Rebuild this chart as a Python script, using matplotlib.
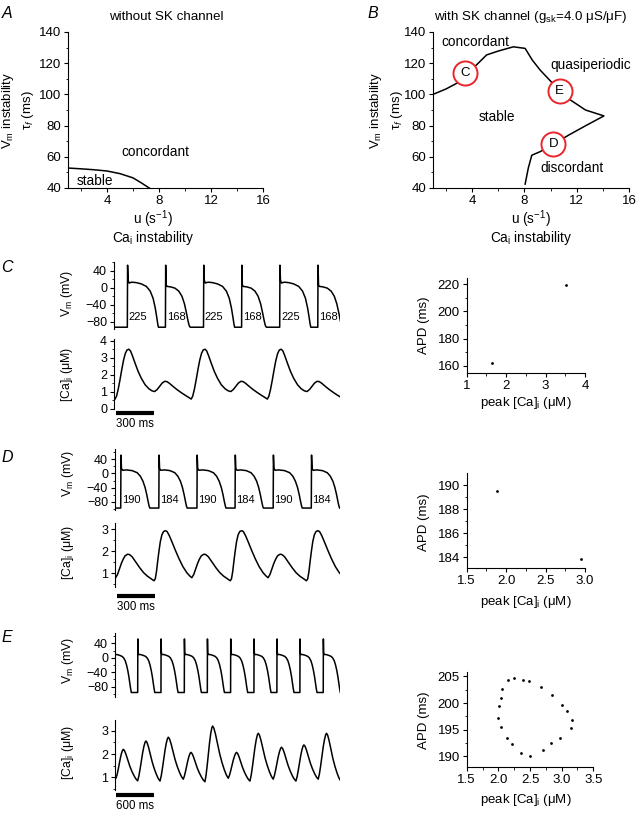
import numpy as np
import matplotlib.pyplot as plt
from matplotlib.ticker import MultipleLocator
import matplotlib.transforms as mtransforms

plt.rcParams['font.family'] = ['Liberation Sans', 'DejaVu Sans']
plt.rcParams['mathtext.fontset'] = 'custom'
plt.rcParams['mathtext.rm'] = 'Liberation Sans'
plt.rcParams['mathtext.it'] = 'Liberation Sans:italic'
plt.rcParams['mathtext.bf'] = 'Liberation Sans:bold'
plt.rcParams['font.size'] = 9
plt.rcParams['axes.linewidth'] = 0.8
plt.rcParams['xtick.major.size'] = 3
plt.rcParams['ytick.major.size'] = 3
plt.rcParams['xtick.minor.size'] = 1.8
plt.rcParams['ytick.minor.size'] = 1.8
plt.rcParams['xtick.major.pad'] = 2
plt.rcParams['ytick.major.pad'] = 2

W, H = 638, 813

# ---------------- data ----------------
# A: boundary stable / concordant (u in 1/s, tau_f in ms)
a_u = [1.0, 2.0, 3.0, 4.0, 5.0, 6.0, 6.6, 7.25]
a_tau = [52.8, 52.3, 51.7, 50.9, 49.2, 46.5, 43.5, 40.0]

# B: boundary with SK channel
b_u = [1.0, 2.0, 2.9, 3.44, 4.33, 5.1, 6.0, 7.15, 8.05, 8.6, 9.2, 10.0, 10.7,
       11.5, 12.67, 14.08, 12.7, 11.4, 10.2, 9.2, 8.56, 8.3, 8.05]
b_tau = [100, 103.5, 107.5, 113, 118.9, 125.3, 127.8, 130.5, 129.5, 122, 115.6,
         108.5, 102.4, 96.5, 90, 86.2, 80, 74, 68, 63.3, 61, 53, 42.5]
b_marks = ['C', 'E', 'D']
b_mark_u = [3.44, 10.7, 10.2]
b_mark_tau = [113.5, 102.4, 68.0]

# C: concordant alternans traces (t in ms)
c_up = [105, 405, 705, 1005, 1305, 1605]
c_apd = ['225', '168', '225', '168', '225', '168']
c_long_t = [0, 2, 6, 14, 35, 70, 110, 150, 180, 203, 220, 232, 240, 245]
c_long_v = [-93, 53, 18, 11, 13, 12, 9, 3, -8, -25, -48, -70, -86, -93]
c_short_t = [0, 2, 6, 14, 40, 75, 105, 130, 150, 166, 178, 187, 195]
c_short_v = [-93, 53, 6, 3, 2, -1, -8, -20, -38, -60, -78, -89, -93]
c_ca_start = [105, 705, 1305]
c_ca_t = [-97, -85, -72, -58, -44, -30, -16, -3, 12, 25, 40, 60, 85, 110, 140,
          170, 195, 215, 235, 255, 275, 295, 312, 332, 360, 390, 420, 450, 480, 503]
c_ca_v = [0.58, 0.75, 1.15, 1.7, 2.3, 2.85, 3.25, 3.45, 3.5, 3.4, 3.12, 2.7, 2.2,
          1.8, 1.42, 1.18, 1.06, 1.02, 1.14, 1.33, 1.52, 1.62, 1.6, 1.5, 1.32,
          1.14, 0.98, 0.83, 0.69, 0.58]
c_peak_ca = [1.63, 3.52]
c_apd_ms = [162.4, 219.5]

# D: discordant alternans traces
d_up = [45, 345, 645, 945, 1245, 1545]
d_apd = ['190', '184', '190', '184', '190', '184']
d_long_t = [0, 2, 6, 15, 45, 90, 130, 155, 175, 192, 205, 216, 224, 229]
d_long_v = [-98, 52, 14, 9, 10, 8, 2, -8, -22, -40, -60, -80, -93, -98]
d_short_t = [0, 2, 6, 15, 45, 88, 126, 150, 170, 186, 199, 210, 218, 223]
d_short_v = [-98, 52, 14, 9, 10, 8, 2, -8, -22, -40, -60, -80, -93, -98]
d_ca_start = [45, 645, 1245]
d_ca_t = [-40, -25, -10, 5, 20, 35, 55, 70, 90, 120, 150, 180, 210, 240, 262,
          272, 282, 292, 302, 312, 324, 337, 352, 365, 382, 402, 430, 460, 490,
          520, 545, 560]
d_ca_v = [0.8, 0.95, 1.2, 1.45, 1.65, 1.8, 1.87, 1.85, 1.75, 1.5, 1.25, 1.03,
          0.87, 0.75, 0.66, 0.75, 1.1, 1.6, 2.05, 2.45, 2.75, 2.9, 2.94, 2.9,
          2.72, 2.45, 2.05, 1.65, 1.3, 1.03, 0.87, 0.8]
d_peak_ca = [1.88, 2.95]
d_apd_ms = [189.5, 183.9]

# E: quasiperiodic traces
e_up = [-12, 352, 713, 1075, 1432, 1793, 2155, 2511, 2868, 3230]
e_ap_t = [0, 2, 6, 14, 40, 80, 120, 145, 170, 191, 210, 227, 240, 253, 265]
e_ap_v = [-96, 52, 14, 9, 9, 7, 4, 0, -8, -20, -35, -52, -68, -84, -96]
e_tr_t = [15, 351, 698, 1059, 1395, 1757, 2093, 2454, 2806, 3152, 3500]
e_tr_v = [0.96, 0.85, 0.84, 0.92, 0.81, 0.96, 0.84, 0.92, 0.84, 0.92, 0.85]
e_pk_t = [129, 480, 827, 1178, 1514, 1886, 2222, 2583, 2930, 3281]
e_pk_v = [2.20, 2.56, 2.72, 2.07, 3.20, 2.07, 2.89, 2.29, 2.39, 2.89]
rise_s = [0, 0.15, 0.3, 0.45, 0.6, 0.75, 0.9, 1.0]
rise_f = [0, 0.12, 0.3, 0.5, 0.7, 0.86, 0.97, 1.0]
decay_s = [0.0, 0.08, 0.18, 0.3, 0.45, 0.6, 0.75, 0.88, 1.0]
decay_f = [1.0, 0.96, 0.85, 0.68, 0.47, 0.3, 0.16, 0.06, 0.0]
e_peak_ca = [2.148, 2.247, 2.394, 2.489, 2.669, 2.848, 3.0, 3.08, 3.159, 3.143,
             2.969, 2.837, 2.705, 2.5, 2.353, 2.211, 2.137, 2.042, 1.994, 2.015,
             2.037, 2.062]
e_apd_ms = [204.4, 204.7, 204.4, 204.2, 203.05, 201.5, 199.6, 198.5, 196.8,
            195.2, 193.5, 192.4, 191.1, 190.0, 190.6, 192.3, 193.4, 195.4, 197.1,
            199.5, 201.0, 202.6]

LAB = 9.8   # axis / region label size


# ---------------- helpers ----------------
def box(x0, y0, x1, y1):
    return [x0 / W, 1 - y1 / H, (x1 - x0) / W, (y1 - y0) / H]


def ftext(x, y, s, **kw):
    kw.setdefault('ha', 'center')
    kw.setdefault('va', 'center')
    fig.text(x / W, 1 - y / H, s, **kw)


def beats(ups, names, templates, rest):
    t, v = [0], [rest]
    for up, nm in zip(ups, names):
        tt, vv = templates[nm]
        t += [up + x for x in tt]
        v += list(vv)
    return t, v


def tile(starts, tt, vv):
    t, v = [], []
    for s in starts:
        t += [s + x for x in tt]
        v += list(vv)
    return t, v


def xy_axes(rect, xlim, ylim, xmaj, xmin, ymaj, ymin):
    ax = fig.add_axes(rect)
    for s in ['top', 'right']:
        ax.spines[s].set_visible(False)
    ax.set_xlim(*xlim)
    ax.set_ylim(*ylim)
    ax.xaxis.set_major_locator(MultipleLocator(xmaj))
    ax.xaxis.set_minor_locator(MultipleLocator(xmin))
    ax.yaxis.set_major_locator(MultipleLocator(ymaj))
    ax.yaxis.set_minor_locator(MultipleLocator(ymin))
    ax.tick_params(labelsize=9.5)
    ax.patch.set_alpha(0)
    return ax


def trace_axes(rect, xlim, ylim, yticks, ymin):
    ax = fig.add_axes(rect)
    for s in ['top', 'right', 'bottom']:
        ax.spines[s].set_visible(False)
    ax.set_xlim(*xlim)
    ax.set_ylim(*ylim)
    ax.set_xticks([])
    ax.set_yticks(yticks)
    ax.yaxis.set_minor_locator(MultipleLocator(ymin))
    ax.tick_params(labelsize=9)
    ax.patch.set_alpha(0)
    return ax


def scale_bar(ax, t0, t1, ybar, ytxt, label):
    tr = mtransforms.blended_transform_factory(ax.transData, fig.transFigure)
    ax.plot([t0, t1], [1 - ybar / H] * 2, color='black', lw=3,
            solid_capstyle='butt', transform=tr, clip_on=False)
    ax.text((t0 + t1) / 2, 1 - ytxt / H, label, transform=tr, ha='center',
            va='center', fontsize=8.3)


fig = plt.figure(figsize=(W / 100, H / 100), dpi=100)

# ---------------- A ----------------
axA = xy_axes(box(68, 32, 263, 188), (1, 16), (40, 140), 4, 2, 20, 10)
axA.plot(a_u, a_tau, color='black', lw=1.1)
axA.text(7.7, 63, 'concordant', ha='center', va='center', fontsize=LAB)
axA.text(3.1, 44.8, 'stable', ha='center', va='center', fontsize=LAB)
ftext(166, 17, 'without SK channel', fontsize=9.6)
ftext(8, 110, 'V$_{\\rm m}$ instability', rotation=90, fontsize=9.5)
ftext(28, 110, 'τ$_f$ (ms)', rotation=90, fontsize=9.5)
ftext(153, 219, 'u (s$^{-1}$)', fontsize=LAB)
ftext(153, 238, 'Ca$_{\\rm i}$ instability', fontsize=LAB)
ftext(7, 13, 'A', fontsize=11.5, style='italic')

# ---------------- B ----------------
axB = xy_axes(box(433, 32, 629, 188), (1, 16), (40, 140), 4, 2, 20, 10)
axB.plot(b_u, b_tau, color='black', lw=1.1)
axB.scatter(b_mark_u, b_mark_tau, s=300, facecolor='white', edgecolor='#e8262b',
            linewidth=1.4, zorder=3)
for nm, u, tau in zip(b_marks, b_mark_u, b_mark_tau):
    axB.text(u, tau, nm, ha='center', va='center', fontsize=9.5, zorder=4)
axB.text(4.2, 133.8, 'concordant', ha='center', va='center', fontsize=LAB)
axB.text(13.1, 118.8, 'quasiperiodic', ha='center', va='center', fontsize=LAB)
axB.text(5.9, 85.3, 'stable', ha='center', va='center', fontsize=LAB)
axB.text(11.6, 52.6, 'discordant', ha='center', va='center', fontsize=LAB)
ftext(531, 17, 'with SK channel (g$_{\\rm sk}$=4.0 μS/μF)', fontsize=9.6)
ftext(376, 110, 'V$_{\\rm m}$ instability', rotation=90, fontsize=9.5)
ftext(397, 110, 'τ$_f$ (ms)', rotation=90, fontsize=9.5)
ftext(531, 219, 'u (s$^{-1}$)', fontsize=LAB)
ftext(531, 238, 'Ca$_{\\rm i}$ instability', fontsize=LAB)
ftext(373, 13, 'B', fontsize=11.5, style='italic')

# ---------------- C ----------------
c_tmpl = {'225': (c_long_t, c_long_v), '168': (c_short_t, c_short_v)}
axCv = trace_axes(box(114, 262, 340, 329), (0, 1780), (-97.2, 60.5),
                  [-80, -40, 0, 40], 20)
t, v = beats(c_up, c_apd, c_tmpl, -93)
axCv.plot(t, v, color='black', lw=1.1)
for up, nm in zip(c_up, c_apd):
    axCv.text(up + 10, -68, nm, ha='left', va='center', fontsize=8)
axCc = trace_axes(box(114, 339.3, 340, 409.3), (0, 1780), (-0.02, 4.08),
                  [0, 1, 2, 3, 4], 0.5)
t, v = tile(c_ca_start, c_ca_t, c_ca_v)
axCc.plot(t, v, color='black', lw=1.1)
scale_bar(axCc, 15, 315, 412.7, 424.3, '300 ms')
ftext(67, 293, 'V$_{\\rm m}$ (mV)', rotation=90, fontsize=8.8)
ftext(67, 375, '[Ca]$_{\\rm i}$ (μM)', rotation=90, fontsize=8.8)
ftext(7, 267, 'C', fontsize=11.5, style='italic')

axCs = xy_axes(box(466.7, 277.7, 585, 373.3), (1, 4), (154.6, 224.8), 1, 0.5, 20, 10)
axCs.scatter(c_peak_ca, c_apd_ms, s=4, color='black', linewidths=0)
ftext(424, 325, 'APD (ms)', rotation=90, fontsize=9.5)
ftext(526, 403, 'peak [Ca]$_{\\rm i}$ (μM)', fontsize=9.5)

# ---------------- D ----------------
d_tmpl = {'190': (d_long_t, d_long_v), '184': (d_short_t, d_short_v)}
axDv = trace_axes(box(115, 449, 340, 510), (0, 1771), (-103.5, 69.2),
                  [-80, -40, 0, 40], 20)
t, v = beats(d_up, d_apd, d_tmpl, -98)
axDv.plot(t, v, color='black', lw=1.1)
for up, nm in zip(d_up, d_apd):
    axDv.text(up + 10, -76, nm, ha='left', va='center', fontsize=8)
axDc = trace_axes(box(115, 523, 340, 586.7), (0, 1771), (0.39, 3.29),
                  [1, 2, 3], 0.5)
t, v = tile(d_ca_start, d_ca_t, d_ca_v)
axDc.plot(t, v, color='black', lw=1.1)
scale_bar(axDc, 12, 312, 595.7, 606.7, '300 ms')
ftext(68, 473, 'V$_{\\rm m}$ (mV)', rotation=90, fontsize=8.8)
ftext(68, 553, '[Ca]$_{\\rm i}$ (μM)', rotation=90, fontsize=8.8)
ftext(7, 457, 'D', fontsize=11.5, style='italic')

axDs = xy_axes(box(466.7, 473.3, 585, 568.3), (1.5, 3.0), (183.1, 190.97),
               0.5, 0.25, 2, 1)
axDs.xaxis.set_major_formatter(plt.FormatStrFormatter('%.1f'))
axDs.scatter(d_peak_ca, d_apd_ms, s=4, color='black', linewidths=0, clip_on=False)
ftext(424, 522, 'APD (ms)', rotation=90, fontsize=9.5)
ftext(526, 602, 'peak [Ca]$_{\\rm i}$ (μM)', fontsize=9.5)

# ---------------- E ----------------
e_tmpl = {'ap': (e_ap_t, e_ap_v)}
axEv = trace_axes(box(115, 632.7, 340, 697.3), (0, 3490), (-109.3, 69.3),
                  [-80, -40, 0, 40], 20)
t, v = beats(e_up, ['ap'] * len(e_up), e_tmpl, -96)
axEv.plot(t[1:], v[1:], color='black', lw=1.1)

t, v = [0], [1.0]
for k in range(len(e_pk_t)):
    for s, f in zip(rise_s, rise_f):
        t.append(e_tr_t[k] + s * (e_pk_t[k] - e_tr_t[k]))
        v.append(e_tr_v[k] + f * (e_pk_v[k] - e_tr_v[k]))
    for s, f in zip(decay_s[1:-1], decay_f[1:-1]):
        t.append(e_pk_t[k] + s * (e_tr_t[k + 1] - e_pk_t[k]))
        v.append(e_tr_v[k + 1] + f * (e_pk_v[k] - e_tr_v[k + 1]))
t.append(e_tr_t[-1])
v.append(e_tr_v[-1])
axEc = trace_axes(box(115, 720, 340, 790), (0, 3490), (0.455, 3.46),
                  [1, 2, 3], 0.5)
axEc.plot(t, v, color='black', lw=1.1)
scale_bar(axEc, 11, 611, 795, 806, '600 ms')
ftext(68, 660, 'V$_{\\rm m}$ (mV)', rotation=90, fontsize=8.8)
ftext(68, 753, '[Ca]$_{\\rm i}$ (μM)', rotation=90, fontsize=8.8)
ftext(7, 637, 'E', fontsize=11.5, style='italic')

axEs = xy_axes(box(466.7, 671.7, 593.3, 766.7), (1.5, 3.5), (188, 205.9),
               0.5, 0.25, 5, 2.5)
axEs.xaxis.set_major_formatter(plt.FormatStrFormatter('%.1f'))
axEs.scatter(e_peak_ca, e_apd_ms, s=4, color='black', linewidths=0)
ftext(424, 720, 'APD (ms)', rotation=90, fontsize=9.5)
ftext(526, 800, 'peak [Ca]$_{\\rm i}$ (μM)', fontsize=9.5)

fig.savefig('out.png', dpi=100)
